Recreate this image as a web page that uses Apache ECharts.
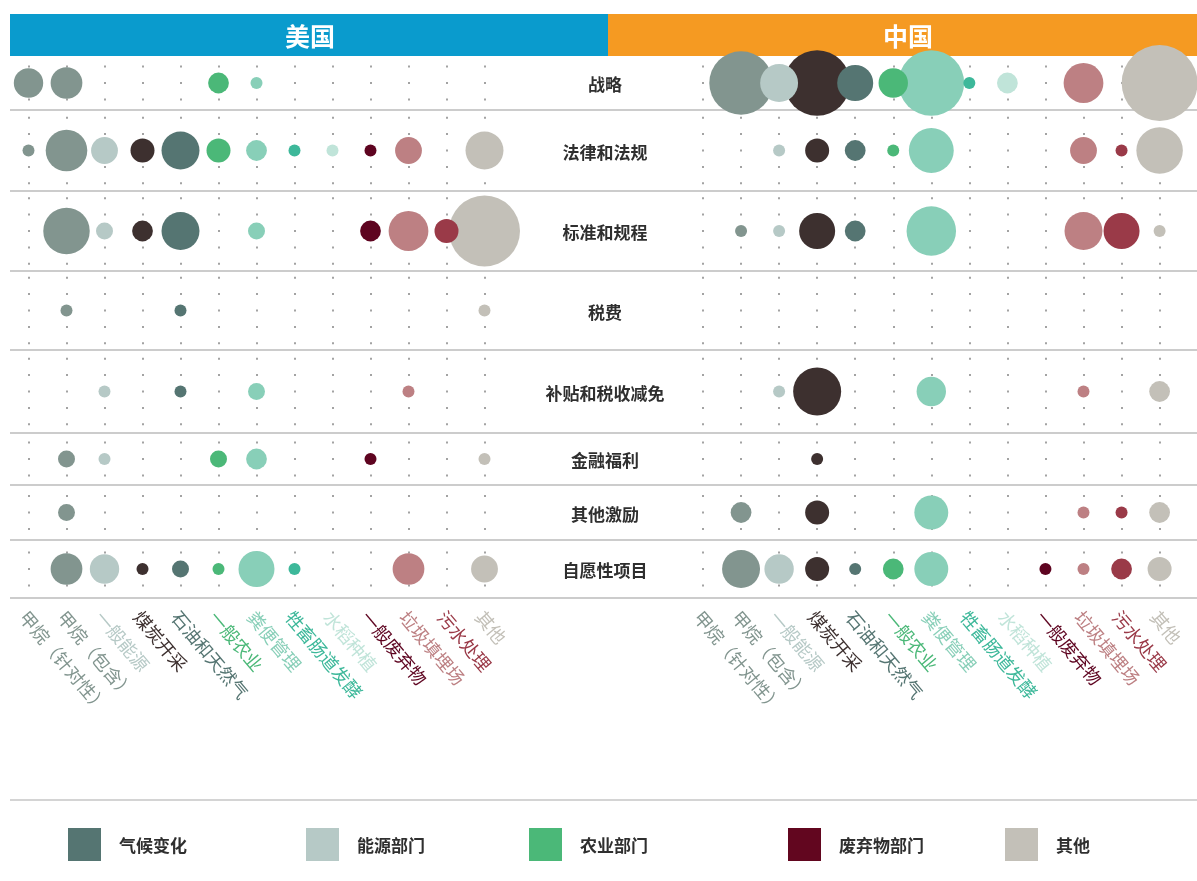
<!DOCTYPE html>
<html><head><meta charset="utf-8">
<script src="https://cdn.jsdelivr.net/npm/echarts@6/dist/echarts.min.js"></script>
<style>html,body{margin:0;padding:0;background:#fff}#c{width:1197px;height:881px}</style>
</head><body><div id="c"></div><script>
// ---------- DATA ----------
const categories = ['甲烷（针对性）','甲烷（包含）','一般能源','煤炭开采','石油和天然气','一般农业','粪便管理','牲畜肠道发酵','水稻种植','一般废弃物','垃圾填埋场','污水处理','其他'];
const categoryColors = ['#82958f','#82958f','#b6c9c6','#3d302f','#557572','#4bb878','#88cfb8','#3db89a','#c0e4d9','#5e0420','#bd8083','#9a3a48','#c3c0b8'];
const policyRows = ['战略','法律和法规','标准和规程','税费','补贴和税收减免','金融福利','其他激励','自愿性项目'];
const panelTitles = ['美国','中国'];
// counts per policy row (columns follow categories); 0 = no policy
const usCounts = [
  [6,7,0,0,0,3,1,0,0,0,0,0,0],
  [1,12,5,4,10,4,3,1,1,1,5,0,10],
  [0,15,2,3,10,0,2,0,0,3,11,4,35],
  [0,1,0,0,1,0,0,0,0,0,0,0,1],
  [0,0,1,0,1,0,2,0,0,0,1,0,0],
  [0,2,1,0,0,2,3,0,0,1,0,0,1],
  [0,2,0,0,0,0,0,0,0,0,0,0,0],
  [0,7,6,1,2,1,9,1,0,0,7,0,5]
];
const cnCounts = [
  [0,28,10,30,9,6,30,1,3,0,11,0,40],
  [0,0,1,4,3,1,14,0,0,0,5,1,15],
  [0,1,1,9,3,0,17,0,0,0,10,9,1],
  [0,0,0,0,0,0,0,0,0,0,0,0,0],
  [0,0,1,16,0,0,6,0,0,0,1,0,3],
  [0,0,0,1,0,0,0,0,0,0,0,0,0],
  [0,3,0,4,0,0,8,0,0,0,1,1,3],
  [0,10,6,4,1,3,8,0,0,1,1,3,4]
];
const legendNames = ['气候变化','能源部门','农业部门','废弃物部门','其他'];
const legendColors = ['#557572','#b6c9c6','#4bb878','#62061f','#c3c0b8'];

// ---------- LAYOUT ----------
const FONT = '"Noto Sans CJK SC","Noto Sans",sans-serif';
const rowEdges = [56,110,191,271,350,433,485,540,598];
const panels = [
  {left:28.5, width:456, counts:usCounts, headerX:10, headerW:598, color:'#0a9bcd', titleX:310},
  {left:703, width:456.6, counts:cnCounts, headerX:608, headerW:589, color:'#f59a22', titleX:908}
];
const DOT = 16.4;
const grids = [], xAxes = [], yAxes = [], series = [];
const rich = {};
categoryColors.forEach((c,i)=>{ rich['c'+i] = {color:c, fontSize:18, fontFamily:FONT}; });

panels.forEach((p) => {
  policyRows.forEach((rowName, r) => {
    const idx = grids.length;
    const top = rowEdges[r], h = rowEdges[r+1] - rowEdges[r];
    grids.push({left:p.left, top:top, width:p.width, height:h, containLabel:false});
    const last = r === policyRows.length - 1;
    let off = (1 - h/2) % DOT; if (off < 0) off += DOT;
    xAxes.push({
      type:'value', gridIndex:idx, min:0, max:categories.length-1, interval:1,
      axisLine:{show:false}, axisTick:{show:false},
      axisLabel:{show:last, rotate:-50, margin:11, padding:[14,0,0,0], showMinLabel:true, showMaxLabel:true,
        formatter:(v)=>'{c'+v+'|'+categories[v]+'}', rich:rich},
      splitLine:{show:true, lineStyle:{color:'#a3a3a3', width:2, type:[2, DOT-2], dashOffset:off}}
    });
    yAxes.push({type:'value', gridIndex:idx, min:0, max:1, show:false});
    const data = [];
    p.counts[r].forEach((v, col) => {
      if (v > 0) data.push({value:[col, 0.5, v], itemStyle:{color:categoryColors[col]}});
    });
    data.sort((a,b)=>b.value[2]-a.value[2]);
    series.push({
      type:'scatter', xAxisIndex:idx, yAxisIndex:idx, data:data, clip:false, silent:true, z:5,
      symbolSize:(val)=>12*Math.sqrt(val[2]),
      itemStyle:{opacity:1}
    });
  });
});

const graphics = [];
panels.forEach((p,i)=>{
  graphics.push({type:'rect', z:0, shape:{x:p.headerX, y:14, width:p.headerW, height:42}, style:{fill:p.color}});
  graphics.push({type:'text', z:1, style:{text:panelTitles[i], x:p.titleX, y:36, textAlign:'center', textVerticalAlign:'middle', fill:'#fff', fontSize:25, fontWeight:'bold', fontFamily:FONT}});
});
rowEdges.slice(1).forEach((y)=>{
  graphics.push({type:'line', z:0, shape:{x1:10, y1:y, x2:1197, y2:y}, style:{stroke:'#9a9a9a', lineWidth:1.2}});
});
graphics.push({type:'line', z:0, shape:{x1:10, y1:800, x2:1197, y2:800}, style:{stroke:'#aaaaaa', lineWidth:1.2}});
policyRows.forEach((name, r)=>{
  const cy = (rowEdges[r] + rowEdges[r+1]) / 2 + 2;
  graphics.push({type:'text', z:1, style:{text:name, x:605, y:cy, textAlign:'center', textVerticalAlign:'middle', fill:'#2f2f2f', fontSize:17, fontWeight:'bold', fontFamily:FONT}});
});
const legendX = [68, 306, 529, 788, 1005];
legendNames.forEach((n,i)=>{
  graphics.push({type:'rect', z:1, shape:{x:legendX[i], y:828, width:33, height:33}, style:{fill:legendColors[i]}});
  graphics.push({type:'text', z:1, style:{text:n, x:legendX[i]+51, y:846, textAlign:'left', textVerticalAlign:'middle', fill:'#2f2f2f', fontSize:17, fontWeight:'bold', fontFamily:FONT}});
});

const chart = echarts.init(document.getElementById('c'), null, {renderer:'canvas'});
chart.setOption({
  animation:false,
  backgroundColor:'#ffffff',
  grid:grids, xAxis:xAxes, yAxis:yAxes, series:series,
  graphic:{elements:graphics}
});
</script></body></html>
